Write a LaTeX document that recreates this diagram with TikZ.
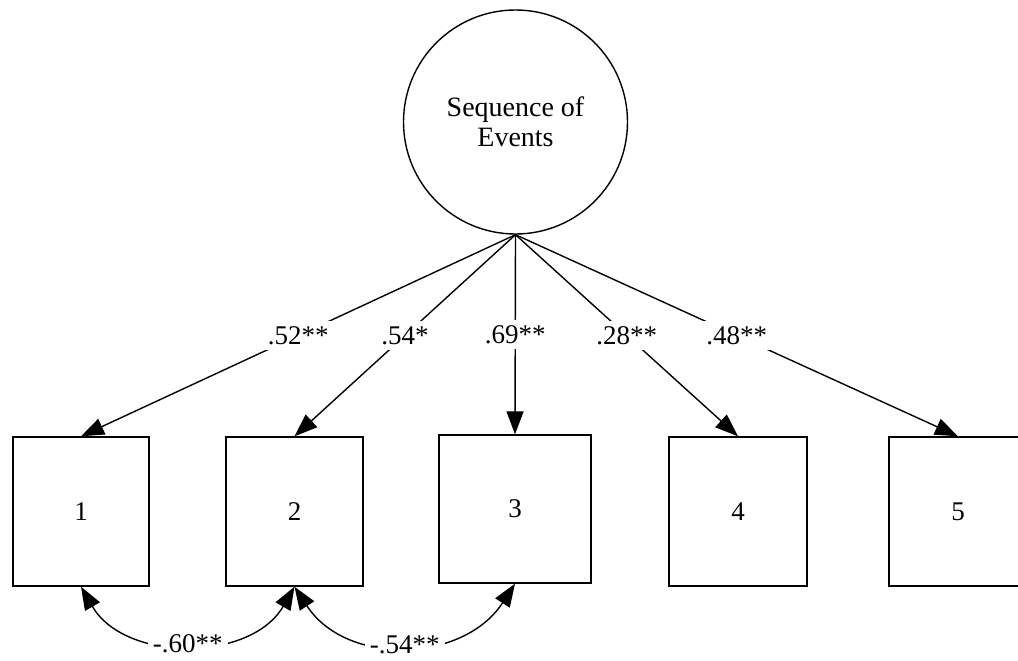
\documentclass[tikz,border=0pt]{standalone}
\usepackage{fontspec}
\setmainfont{Liberation Serif}
\usetikzlibrary{arrows.meta}
\begin{document}
\begin{tikzpicture}[x=1pt,y=-1pt,
  every node/.style={font=\fontsize{27}{30}\selectfont},
  latent/.style={draw,circle,line width=1.4pt,minimum size=224pt,inner sep=0pt,align=center,font=\fontsize{28}{30}\selectfont},
  obs/.style={draw,rectangle,line width=1.4pt,inner sep=0pt,minimum height=149pt},
  arr/.style={line width=1.4pt,-{Triangle[length=23pt,width=17pt]}},
  dbl/.style={line width=1.4pt,{Triangle[length=23pt,width=17pt]}-{Triangle[length=23pt,width=17pt]}},
  lbl/.style={fill=white,inner sep=5pt}]
\useasboundingbox (0,0) rectangle (1018,661);
\node[latent] (c) at (515.5,122) {Sequence of\\Events};
\node[obs,minimum width=136pt] (b1) at (81,511.5) {1};
\node[obs,minimum width=137pt] (b2) at (294.5,511.5) {2};
\node[obs,minimum width=152pt,minimum height=148pt] (b3) at (515,509) {3};
\node[obs,minimum width=138pt] (b4) at (738,511.5) {4};
\node[obs,minimum width=138pt] (b5) at (958,511.5) {5};
\draw[arr] (c.south) -- node[lbl]{.52**} (b1.north);
\draw[arr] (c.south) -- node[lbl]{.54*} (b2.north);
\draw[arr] (c.south) -- node[lbl]{.69**} (b3.north);
\draw[arr] (c.south) -- node[lbl]{.28**} (b4.north);
\draw[arr] (c.south) -- node[lbl]{.48**} (b5.north);
\draw[dbl] (b1.south) to[out=-60,in=-120,looseness=1.05] node[lbl]{-.60**} (b2.south);
\draw[dbl] (b2.south) to[out=-57,in=-123,looseness=1.1] node[lbl]{-.54**} (b3.south);
\end{tikzpicture}
\end{document}
